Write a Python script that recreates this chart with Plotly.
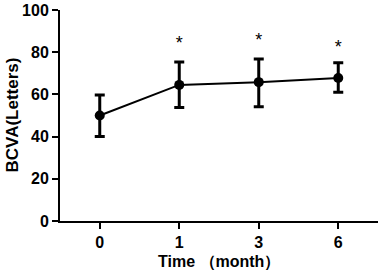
import plotly.graph_objects as go

months = ["0", "1", "3", "6"]
means = [50.0, 64.5, 65.8, 67.8]
err_plus = [9.7, 10.8, 11.0, 7.2]
err_minus = [9.9, 10.7, 11.6, 6.8]
star_labels = ["*", "*", "*"]
star_months = ["1", "3", "6"]
star_y = [83.5, 85.2, 81.6]
y_ticks = [0, 20, 40, 60, 80, 100]

fnt = "Liberation Sans, Arial, sans-serif"

fig = go.Figure()
fig.add_trace(go.Scatter(
    x=months, y=means, mode="lines+markers",
    line=dict(color="black", width=2),
    marker=dict(color="black", size=10),
    error_y=dict(type="data", symmetric=False, array=err_plus, arrayminus=err_minus,
                 color="black", thickness=3, width=5),
    showlegend=False,
))
fig.add_trace(go.Scatter(
    x=star_months, y=star_y, mode="text", text=star_labels,
    textfont=dict(family=fnt, size=18, color="black"),
    showlegend=False,
))
fig.update_layout(
    width=383, height=272,
    margin=dict(l=60, r=5, t=10, b=51, autoexpand=False),
    plot_bgcolor="white", paper_bgcolor="white",
    font=dict(family=fnt, color="black"),
    annotations=[
        dict(text="<b>Time （month）</b>", xref="paper", yref="paper", x=0.5, y=0,
             yshift=-41, xanchor="center", yanchor="middle", showarrow=False,
             font=dict(family=fnt, size=16, color="black")),
        dict(text="<b>BCVA(Letters)</b>", xref="paper", yref="paper", x=0, y=0.5,
             xshift=-48, xanchor="center", yanchor="middle", showarrow=False, textangle=-90,
             font=dict(family=fnt, size=17, color="black")),
    ],
)
fig.update_xaxes(
    type="category", range=[-0.5, 3.5], automargin=False,
    showline=True, linecolor="black", linewidth=2,
    ticks="outside", ticklen=6, tickwidth=2, tickcolor="black",
    showgrid=False, zeroline=False,
    tickvals=months, ticktext=["<b>%s</b>" % m for m in months],
    tickfont=dict(family=fnt, size=16, color="black"),
)
fig.update_yaxes(
    range=[0, 100], tickvals=y_ticks, automargin=False,
    ticktext=["<b>%d</b>" % v for v in y_ticks],
    showline=True, linecolor="black", linewidth=2,
    ticks="outside", ticklen=6, tickwidth=2, tickcolor="black",
    showgrid=False, zeroline=False,
    tickfont=dict(family=fnt, size=16, color="black"),
)
fig.write_html("out.html", config={"displayModeBar": False},
               post_script="document.body.style.margin='0';document.body.style.padding='0';")
